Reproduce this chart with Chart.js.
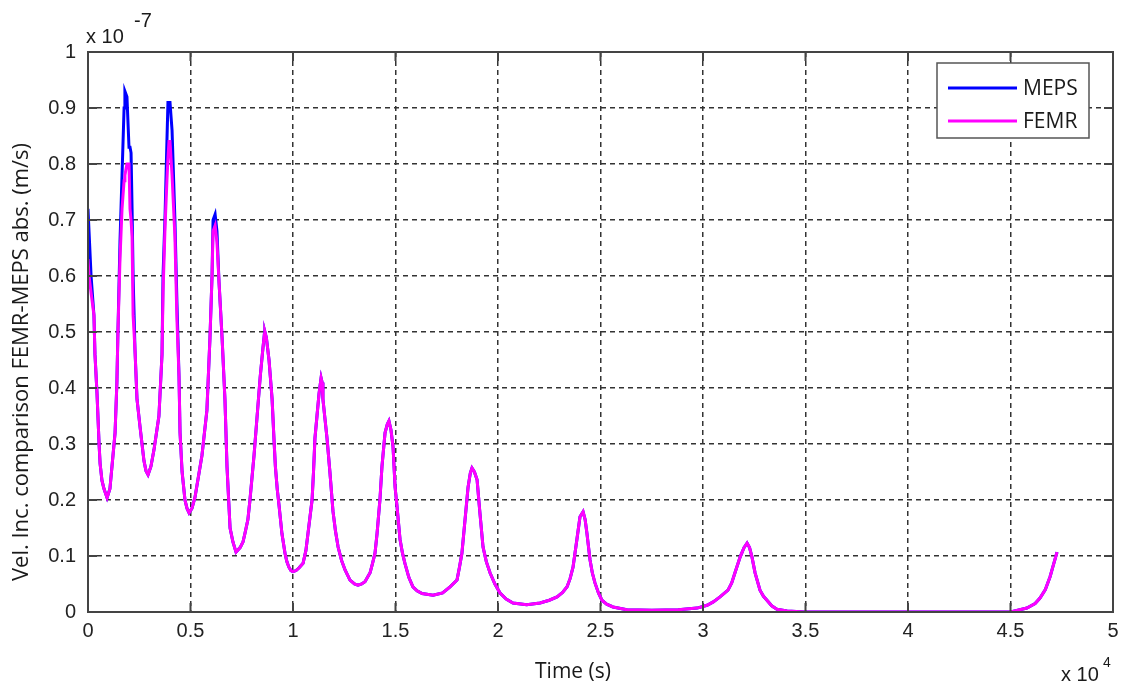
<!DOCTYPE html>
<html>
<head>
<meta charset="utf-8">
<script src="https://cdn.jsdelivr.net/npm/chart.js@4.4.1/dist/chart.umd.min.js"></script>
<style>
  html, body { margin: 0; padding: 0; background: #fff; }
  #wrap { width: 1127px; height: 689px; position: relative; }
</style>
</head>
<body>
<div id="wrap"><canvas id="velChart" width="1127" height="689"></canvas></div>
<script>
// Anfangsbereich (s): hier weichen MEPS und FEMR voneinander ab
const timeEarly = [
    0, 50, 150, 290, 340, 440, 540, 590, 680, 780,
    930, 1070, 1170, 1320, 1410, 1460, 1560, 1660, 1760, 1800,
    1900, 2000, 2050, 2100, 2150, 2200, 2290, 2390, 2540, 2730,
    2830, 2930, 3070, 3220, 3460, 3610, 3660, 3760, 3850, 3900,
    3950, 4000, 4100, 4240, 4340, 4440, 4490, 4590, 4730, 4830,
    4930, 5070, 5220, 5560, 5800, 5950, 6050, 6100, 6200, 6290,
    6390, 6540, 6680, 6780, 6930, 7070
];

// Werte in Einheiten von 1e-7 m/s
const mepsEarly = [
    0.72, 0.68, 0.60, 0.53, 0.46, 0.39, 0.30, 0.265, 0.235, 0.22,
    0.204, 0.22, 0.26, 0.32, 0.41, 0.50, 0.66, 0.78, 0.90, 0.93,
    0.92, 0.83, 0.83, 0.82, 0.72, 0.60, 0.47, 0.38, 0.33, 0.27,
    0.252, 0.245, 0.26, 0.29, 0.35, 0.46, 0.60, 0.71, 0.84, 0.91,
    0.91, 0.91, 0.86, 0.70, 0.55, 0.42, 0.32, 0.25, 0.20, 0.185,
    0.177, 0.185, 0.205, 0.28, 0.36, 0.49, 0.60, 0.70, 0.71, 0.68,
    0.59, 0.49, 0.38, 0.26, 0.15, 0.125
];

const femrEarly = [
    0.63, 0.60, 0.57, 0.53, 0.46, 0.39, 0.30, 0.265, 0.235, 0.22,
    0.204, 0.22, 0.26, 0.32, 0.41, 0.50, 0.63, 0.72, 0.77, 0.78,
    0.80, 0.80, 0.72, 0.70, 0.67, 0.53, 0.47, 0.38, 0.33, 0.27,
    0.252, 0.245, 0.26, 0.29, 0.35, 0.46, 0.57, 0.69, 0.77, 0.81,
    0.84, 0.84, 0.78, 0.67, 0.52, 0.42, 0.32, 0.25, 0.20, 0.185,
    0.177, 0.185, 0.205, 0.28, 0.36, 0.49, 0.60, 0.68, 0.69, 0.66,
    0.59, 0.49, 0.38, 0.26, 0.15, 0.125
];

// Restlicher Verlauf (s): beide Kurven liegen übereinander
const timeLate = [
    7220, 7420, 7560, 7660, 7800, 7900, 8000, 8100, 8250, 8400,
    8530, 8600, 8630, 8700, 8830, 8980, 9070, 9140, 9230, 9320,
    9460, 9610, 9700, 9800, 9900, 10000, 10150, 10300, 10490, 10630,
    10730, 10830, 10930, 11000, 11070, 11170, 11270, 11370, 11420, 11460,
    11560, 11660, 11800, 11950, 12070, 12200, 12370, 12540, 12780, 13000,
    13170, 13350, 13510, 13760, 13880, 14000, 14100, 14240, 14340, 14490,
    14600, 14680, 14780, 14880, 14980, 15070, 15220, 15340, 15460, 15650,
    15850, 16050, 16300, 16830, 17300, 17660, 18000, 18120, 18240, 18390,
    18540, 18650, 18730, 18850, 18980, 19120, 19270, 19430, 19610, 19850,
    20100, 20400, 20730, 21400, 22050, 22500, 22880, 23150, 23370, 23520,
    23660, 23850, 24000, 24150, 24250, 24340, 24490, 24600, 24730, 24900,
    25070, 25300, 25610, 26290, 27500, 28800, 29710, 30200, 30500, 30830,
    31220, 31400, 31560, 31810, 32000, 32150, 32270, 32390, 32540, 32780,
    32950, 33120, 33350, 33610, 34100, 35000, 45000, 45100, 45800, 46200,
    46440, 46700, 46930, 47100, 47270
];

const valsLate = [
    0.107, 0.115, 0.125, 0.141, 0.165, 0.20, 0.24, 0.28, 0.35, 0.42,
    0.47, 0.495, 0.50, 0.49, 0.45, 0.38, 0.31, 0.26, 0.22, 0.19,
    0.14, 0.105, 0.09, 0.08, 0.074, 0.072, 0.074, 0.079, 0.087, 0.11,
    0.14, 0.17, 0.20, 0.25, 0.31, 0.35, 0.39, 0.418, 0.41, 0.38,
    0.345, 0.31, 0.25, 0.18, 0.145, 0.116, 0.092, 0.075, 0.057, 0.05,
    0.048, 0.05, 0.054, 0.07, 0.087, 0.105, 0.14, 0.20, 0.26, 0.32,
    0.335, 0.341, 0.325, 0.295, 0.223, 0.19, 0.13, 0.105, 0.087, 0.062,
    0.045, 0.038, 0.033, 0.03, 0.034, 0.045, 0.057, 0.08, 0.105, 0.164,
    0.223, 0.248, 0.257, 0.25, 0.236, 0.176, 0.116, 0.09, 0.07, 0.05,
    0.034, 0.023, 0.016, 0.013, 0.016, 0.021, 0.027, 0.035, 0.045, 0.06,
    0.08, 0.13, 0.17, 0.179, 0.165, 0.14, 0.093, 0.07, 0.052, 0.034,
    0.021, 0.014, 0.009, 0.004, 0.003, 0.004, 0.007, 0.012, 0.018, 0.027,
    0.039, 0.052, 0.07, 0.098, 0.115, 0.123, 0.115, 0.098, 0.07, 0.039,
    0.028, 0.021, 0.011, 0.005, 0.002, 0, 0, 0.001, 0.007, 0.015,
    0.025, 0.04, 0.063, 0.085, 0.107
];

const seriesNames = ['MEPS', 'FEMR'];
const seriesColors = ['#0000ff', '#ff00ff'];

const xTickLabels = ['0', '0.5', '1', '1.5', '2', '2.5', '3', '3.5', '4', '4.5', '5'];
const yTickLabels = ['0', '0.1', '0.2', '0.3', '0.4', '0.5', '0.6', '0.7', '0.8', '0.9', '1'];

const xTitle = 'Time (s)';
const yTitle = 'Vel. Inc. comparison FEMR-MEPS abs. (m/s)';
const xExp = '4';
const yExp = '-7';

const tickFont = '"Liberation Sans", Arial, sans-serif';
const labelFont = '"Open Sans", "Noto Sans", sans-serif';

// Rahmen, Innenticks, Legende und Achsentexte im MATLAB-Stil
const matlabDecor = {
    id: 'matlabDecor',
    afterDatasetsDraw(chart) {
        const { ctx, chartArea: a, scales } = chart;
        ctx.save();
        ctx.strokeStyle = '#444';
        ctx.lineWidth = 2;
        ctx.setLineDash([]);
        ctx.strokeRect(a.left, a.top, a.right - a.left, a.bottom - a.top);
        scales.x.ticks.forEach((t) => {
            const px = scales.x.getPixelForValue(t.value);
            ctx.beginPath();
            ctx.moveTo(px, a.bottom); ctx.lineTo(px, a.bottom - 9);
            ctx.moveTo(px, a.top); ctx.lineTo(px, a.top + 9);
            ctx.stroke();
        });
        scales.y.ticks.forEach((t) => {
            const py = scales.y.getPixelForValue(t.value);
            ctx.beginPath();
            ctx.moveTo(a.left, py); ctx.lineTo(a.left + 9, py);
            ctx.moveTo(a.right, py); ctx.lineTo(a.right - 9, py);
            ctx.stroke();
        });

        // Legende
        const lx = 937, ly = 63, lw = 152, lh = 75;
        ctx.fillStyle = '#fff';
        ctx.fillRect(lx, ly, lw, lh);
        ctx.strokeStyle = '#555';
        ctx.lineWidth = 1.5;
        ctx.strokeRect(lx, ly, lw, lh);
        ctx.font = '21px ' + labelFont;
        ctx.textBaseline = 'middle';
        ctx.textAlign = 'left';
        chart.data.datasets.forEach((ds, i) => {
            const yy = 88 + i * 33;
            ctx.strokeStyle = ds.borderColor;
            ctx.lineWidth = 3;
            ctx.beginPath();
            ctx.moveTo(948, yy); ctx.lineTo(1017, yy);
            ctx.stroke();
            ctx.fillStyle = '#1a1a1a';
            ctx.fillText(ds.label, 1023, yy + 1);
        });

        // Achsentitel
        ctx.fillStyle = '#1a1a1a';
        ctx.font = '21px ' + labelFont;
        ctx.textAlign = 'center';
        ctx.fillText(xTitle, 573, 672);
        ctx.save();
        ctx.translate(22, 362);
        ctx.rotate(-Math.PI / 2);
        ctx.font = '22px ' + labelFont;
        ctx.fillText(yTitle, 0, 0);
        ctx.restore();

        // Exponenten
        ctx.font = '20px ' + tickFont;
        ctx.textAlign = 'left';
        ctx.textBaseline = 'alphabetic';
        ctx.fillText('x 10', 86, 43);
        ctx.fillText(yExp, 134, 27);
        ctx.fillText('x 10', 1061, 681);
        ctx.font = '14px ' + tickFont;
        ctx.fillText(xExp, 1103, 667);
        ctx.restore();
    }
};

function initVelChart() {
    const ctx = document.getElementById('velChart');
    const timeAll = timeEarly.concat(timeLate);
    const seriesVals = [mepsEarly.concat(valsLate), femrEarly.concat(valsLate)];
    const datasets = seriesVals.map((vals, i) => ({
        label: seriesNames[i],
        data: timeAll.map((t, k) => ({ x: t, y: vals[k] })),
        borderColor: seriesColors[i],
        backgroundColor: seriesColors[i],
        borderWidth: 3,
        pointRadius: 0,
        tension: 0,
        fill: false,
        order: i === 0 ? 1 : 0
    }));

    new Chart(ctx, {
        type: 'line',
        data: { datasets },
        options: {
            responsive: false,
            animation: false,
            layout: { padding: { left: 0, right: 14, top: 52, bottom: 0 } },
            plugins: {
                legend: { display: false },
                tooltip: { enabled: false }
            },
            scales: {
                x: {
                    type: 'linear',
                    min: 0,
                    max: 50000,
                    afterFit: (scale) => { scale.height = 77; },
                    ticks: {
                        stepSize: 5000,
                        autoSkip: false,
                        maxRotation: 0,
                        padding: 7,
                        color: '#222',
                        font: { family: tickFont, size: 20 },
                        callback: (v) => xTickLabels[Math.round(v / 5000)]
                    },
                    grid: { color: '#333', lineWidth: 1.5, drawTicks: false },
                    border: { display: false, dash: [5, 4] }
                },
                y: {
                    min: 0,
                    max: 1,
                    afterFit: (scale) => { scale.width = 88; },
                    ticks: {
                        stepSize: 0.1,
                        autoSkip: false,
                        padding: 12,
                        color: '#222',
                        font: { family: tickFont, size: 20 },
                        callback: (v) => yTickLabels[Math.round(v * 10)]
                    },
                    grid: { color: '#333', lineWidth: 1.5, drawTicks: false },
                    border: { display: false, dash: [5, 4] }
                }
            }
        },
        plugins: [matlabDecor]
    });
}

document.addEventListener('DOMContentLoaded', initVelChart);
</script>
</body>
</html>
